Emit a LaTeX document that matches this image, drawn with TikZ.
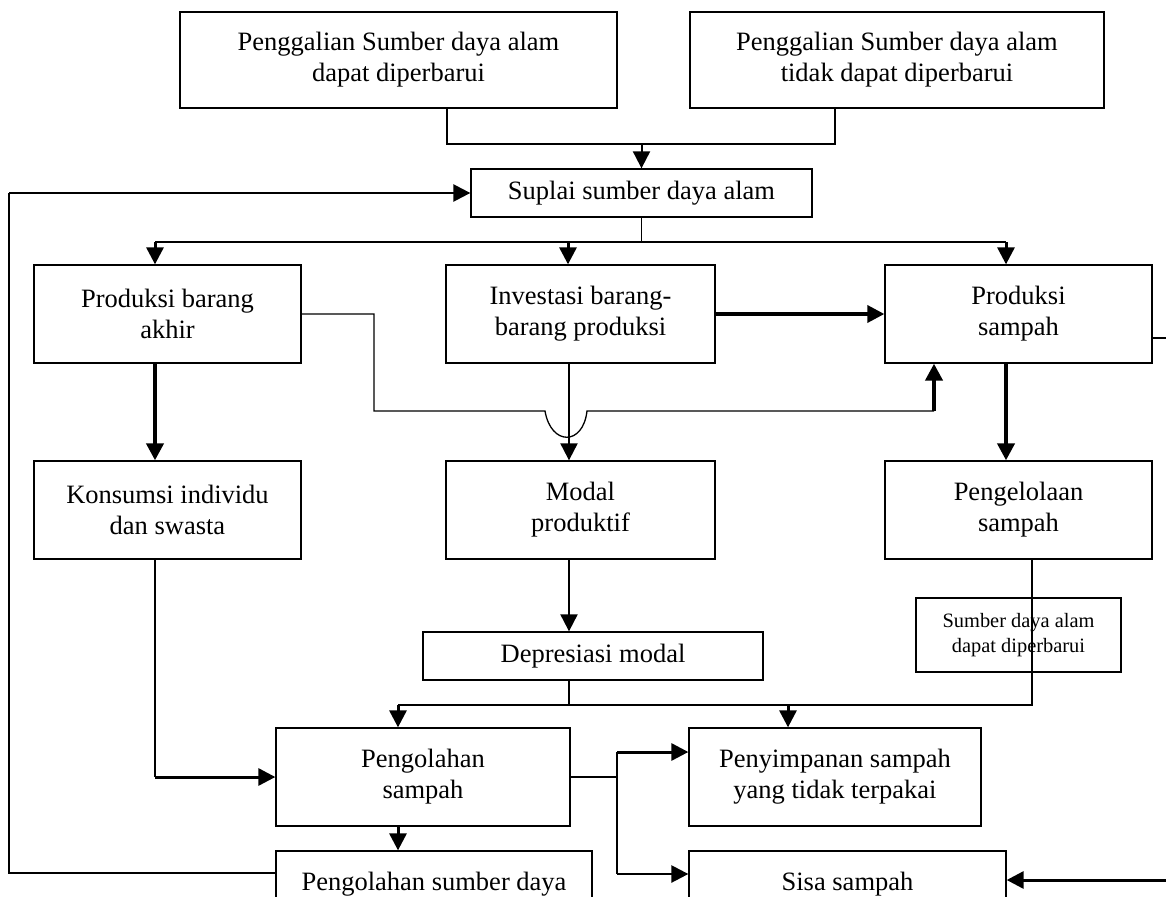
\documentclass[tikz,border=0pt]{standalone}
\usepackage{fontspec}
\setmainfont{Liberation Serif}
\usetikzlibrary{arrows.meta}

\begin{document}
\begin{tikzpicture}[x=1pt, y=-1pt,
    box/.style={draw, line width=1.3pt, align=center, inner sep=0pt, font=\fontsize{26.5}{31}\selectfont},
    smallbox/.style={box, font=\fontsize{20.4}{25}\selectfont},
    line/.style={line width=1.3pt},
    arr/.style={line width=2pt, -{Triangle[width=17pt,length=17pt]}},
    midarr/.style={arr, line width=3pt},
    thickarr/.style={arr, line width=4pt}]
    \useasboundingbox (0,0) rectangle (1166,896);
    \fill[white] (0,0) rectangle (1166,896);
    \clip (0,0) rectangle (1166,896);

    % Sources
    \node[box, minimum width=437pt, minimum height=96pt] (gali1) at (398.5,60) {Penggalian Sumber daya alam\\dapat diperbarui};
    \node[box, minimum width=414pt, minimum height=96pt] (gali2) at (897,60) {Penggalian Sumber daya alam\\tidak dapat diperbarui};
    \node[box, minimum width=341pt, minimum height=48pt] (suplai) at (641.5,193) {Suplai sumber daya alam};

    % Production row
    \node[box, minimum width=267pt, minimum height=98pt] (prodakhir) at (167.5,314) {Produksi barang\\akhir};
    \node[box, minimum width=269pt, minimum height=98pt] (investasi) at (580.5,314) {Investasi barang-\\barang produksi};
    \node[box, minimum width=267pt, minimum height=98pt] (prodsampah) at (1018.5,314) {Produksi\\sampah};

    % Second row
    \node[box, minimum width=267pt, minimum height=98pt] (konsumsi) at (167.5,510) {Konsumsi individu\\dan swasta};
    \node[box, minimum width=269pt, minimum height=98pt] (modal) at (580.5,510) {Modal\\produktif};
    \node[box, minimum width=267pt, minimum height=98pt] (kelola) at (1018.5,510) {Pengelolaan\\sampah};
    \node[box, minimum width=340pt, minimum height=48pt] (depresiasi) at (593,656) {Depresiasi modal};
    \node[smallbox, minimum width=205pt, minimum height=74pt] (sdabaru) at (1018.5,635) {Sumber daya alam\\dapat diperbarui};

    % Treatment row
    \node[box, minimum width=294pt, minimum height=98pt] (olah) at (423,777) {Pengolahan\\sampah};
    \node[box, minimum width=292pt, minimum height=98pt] (simpan) at (835,777) {Penyimpanan sampah\\yang tidak terpakai};
    \node[box, minimum width=316pt, minimum height=66pt] (olahsda) at (434,884) {Pengolahan sumber daya};
    \node[box, minimum width=317pt, minimum height=66pt] (sisa) at (847.5,884) {Sisa sampah};

    % Merge into supply
    \coordinate (mA) at (447,144);
    \coordinate (mB) at (835,144);
    \draw[line] (mA |- gali1.south) -- (mA) -- (mB) -- (mB |- gali2.south);
    \draw[arr] (suplai.north |- mA) -- (suplai.north);

    % Feedback loop
    \coordinate (fb) at (9,193);
    \draw[line] ([yshift=11pt]olahsda.west) -| (fb);
    \draw[arr, line width=2.5pt] (fb) -- (suplai.west);

    % Distribution
    \coordinate (d1) at (155,242);
    \coordinate (d2) at (568,242);
    \coordinate (d3) at (1006,242);
    \draw[line] (suplai.south) -- (suplai.south |- d2);
    \draw[line] (d1) -- (d3);
    \draw[midarr] (d1) -- (d1 |- prodakhir.north);
    \draw[midarr] (d2) -- (d2 |- investasi.north);
    \draw[midarr] (d3) -- (d3 |- prodsampah.north);

    % Production flows
    \coordinate (eh) at (569,411);
    \coordinate (up) at (934,411);
    \draw[thickarr, line width=3.5pt] (investasi.east) -- (prodsampah.west);
    \draw[line] (prodakhir.east) -| (374,411) -- (545,411) .. controls (551,446) and (583,446) .. (587,411) -- (up);
    \draw[thickarr] (up) -- (up |- prodsampah.south);
    \draw[arr] (eh |- investasi.south) -- (eh |- modal.north);
    \draw[thickarr] (d1 |- prodakhir.south) -- (d1 |- konsumsi.north);
    \draw[thickarr] (d3 |- prodsampah.south) -- (d3 |- kelola.north);
    \draw[arr] (eh |- modal.south) -- (eh |- depresiasi.north);

    % Waste treatment
    \coordinate (s1) at (398,705);
    \coordinate (s2) at (788,705);
    \coordinate (s3) at (1032,705);
    \draw[line] (eh |- depresiasi.south) -- (eh |- s1);
    \draw[line] (s3 |- kelola.south) -- (s3) -- (s1);
    \draw[midarr] (s1) -- (s1 |- olah.north);
    \draw[midarr] (s2) -- (s2 |- simpan.north);
    \draw[line] (d1 |- konsumsi.south) -- (d1 |- olah.west);
    \draw[midarr] (d1 |- olah.west) -- (olah.west);
    \draw[midarr] (s1 |- olah.south) -- (s1 |- olahsda.north);

    % Split to storage and residue
    \coordinate (sp) at (617,777);
    \coordinate (inS) at ([yshift=25pt]simpan.west);
    \coordinate (inR) at ([yshift=10pt]sisa.west);
    \draw[line] (olah.east) -- (sp);
    \draw[line] (sp |- inS) -- (sp |- inR);
    \draw[midarr] (sp |- inS) -- (inS);
    \draw[arr, line width=2.5pt] (sp |- inR) -- (inR);

    % Return on the right edge
    \coordinate (ret) at (1200,880);
    \draw[line] ([yshift=-24pt]prodsampah.east) -| (ret);
    \draw[midarr] (ret) -- (ret -| sisa.east);
\end{tikzpicture}
\end{document}
